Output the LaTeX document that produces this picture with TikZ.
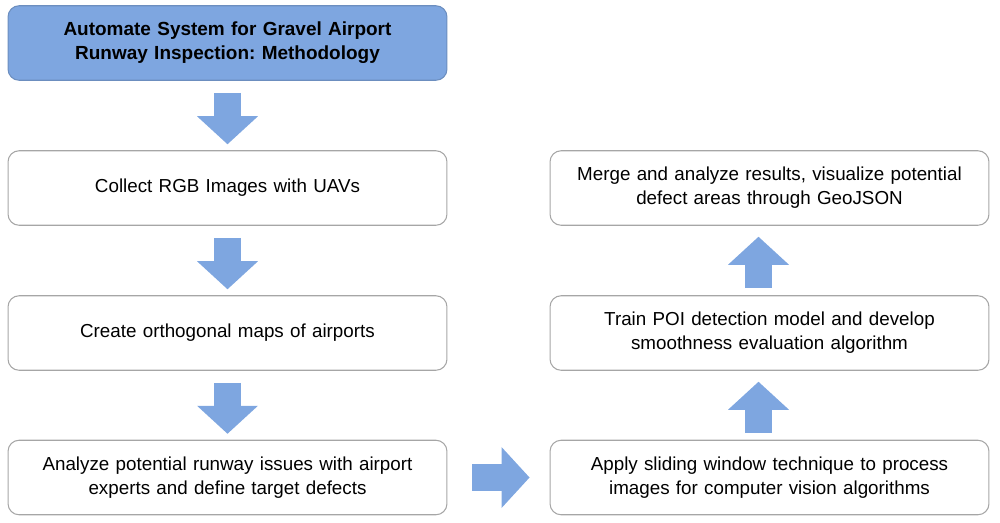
\documentclass[tikz,border=0pt]{standalone}
\usepackage{fontspec}
\setmainfont{Liberation Sans}
\usetikzlibrary{arrows.meta}
\definecolor{flowblue}{HTML}{7EA6E0}
\definecolor{flowedge}{HTML}{6C8EBF}
\definecolor{boxedge}{HTML}{A6A6A6}
\frenchspacing

\begin{document}
\begin{tikzpicture}[x=0.02cm,y=-0.02cm,
        stepbox/.style={draw=boxedge,line width=0.6pt,rounded corners=0.22cm,minimum width=8.78cm,minimum height=1.49cm,
            text width=8.6cm,align=center,inner sep=0pt,font=\fontsize{10.7}{13.6}\selectfont},
        titlebox/.style={stepbox,draw=flowedge,fill=flowblue,font=\fontsize{10.8}{13.6}\selectfont\bfseries},
        bigarrow/.style={draw=flowblue,line width=0.55cm,-{Triangle[length=0.56cm,width=1.22cm,line width=0pt,fill=flowblue]}}]
        \useasboundingbox (0,0) rectangle (1000,522);

        \node[titlebox] (title) at (227.5,43) {Automate System for Gravel Airport\\Runway Inspection: Methodology};
        \node[stepbox] (collect) at (227.5,188) {Collect RGB Images with UAVs};
        \node[stepbox] (maps) at (227.5,333) {Create orthogonal maps of airports};
        \node[stepbox] (issues) at (227.5,477.5) {Analyze potential runway issues with airport\\experts and define target defects};

        \node[stepbox] (window) at (769.5,477.5) {Apply sliding window technique to process\\images for computer vision algorithms};
        \node[stepbox] (train) at (769.5,333) {Train POI detection model and develop\\smoothness evaluation algorithm};
        \node[stepbox] (merge) at (769.5,188) {Merge and analyze results, visualize potential\\defect areas through GeoJSON};

        % down the left column
        \foreach \a/\b in {title/collect,collect/maps,maps/issues}
            \draw[bigarrow,shorten <=0.24cm,shorten >=0.12cm] (\a.south) -- (\b.north);

        \draw[bigarrow,shorten <=0.5cm,shorten >=0.4cm] (issues.east) -- (window.west);

        % up the right column
        \foreach \a/\b in {window/train,train/merge}
            \draw[bigarrow,shorten <=0.14cm,shorten >=0.22cm] ([xshift=-0.22cm]\a.north) -- ([xshift=-0.22cm]\b.south);
\end{tikzpicture}
\end{document}
